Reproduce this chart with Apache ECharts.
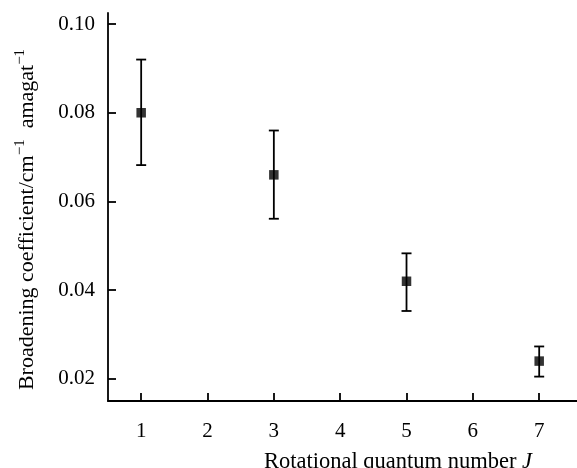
<!DOCTYPE html>
<html>
<head>
<meta charset="utf-8">
<script src="https://cdn.jsdelivr.net/npm/echarts@6/dist/echarts.min.js"></script>
<style>
  html, body { margin: 0; padding: 0; background: #fff; }
  #chart { width: 577px; height: 468px; }
</style>
</head>
<body>
<div id="chart"></div>
<script>
// rotational quantum number J
var jValues = [1, 3, 5, 7];
// broadening coefficient, cm^-1 amagat^-1
var coef = [0.080, 0.066, 0.042, 0.024];
var errLow = [0.0682, 0.0561, 0.0353, 0.0205];
var errHigh = [0.0920, 0.0760, 0.0483, 0.0273];

var xTicks = [1, 2, 3, 4, 5, 6, 7];
var yTicks = [0.02, 0.04, 0.06, 0.08, 0.10];

var FONT = '"Liberation Serif", "DejaVu Serif", serif';

var points = jValues.map(function (j, i) { return [j, coef[i]]; });
var bars = jValues.map(function (j, i) { return [j, errLow[i], errHigh[i]]; });

function renderErr(params, api) {
  var lo = api.coord([api.value(0), api.value(1)]);
  var hi = api.coord([api.value(0), api.value(2)]);
  var hw = 5;
  var style = { stroke: '#000', lineWidth: 1.8 };
  return {
    type: 'group',
    children: [
      { type: 'line', shape: { x1: lo[0], y1: lo[1], x2: hi[0], y2: hi[1] }, style: style },
      { type: 'line', shape: { x1: lo[0] - hw, y1: lo[1], x2: lo[0] + hw, y2: lo[1] }, style: style },
      { type: 'line', shape: { x1: hi[0] - hw, y1: hi[1], x2: hi[0] + hw, y2: hi[1] }, style: style }
    ]
  };
}

var option = {
  animation: false,
  backgroundColor: '#fff',
  textStyle: { fontFamily: FONT },
  grid: { left: 108, right: 0, top: 13, bottom: 67, containLabel: false, outerBoundsMode: 'none' },
  xAxis: {
    type: 'value',
    min: 0.5,
    max: 7.57,
    name: '{n|Rotational quantum number }{i|J}',
    nameLocation: 'middle',
    nameGap: 50,
    nameTextStyle: {
      padding: [0, 0, 0, 111],
      rich: {
        n: { fontFamily: FONT, fontSize: 22.5, color: '#000' },
        i: { fontFamily: FONT, fontSize: 22.5, color: '#000', fontStyle: 'italic' }
      }
    },
    axisLine: { lineStyle: { color: '#000', width: 1.8 } },
    axisTick: { inside: true, length: 8, lineStyle: { color: '#000', width: 1.8 }, customValues: xTicks },
    axisLabel: { color: '#000', fontSize: 21, fontFamily: FONT, margin: 20, customValues: xTicks },
    splitLine: { show: false }
  },
  yAxis: {
    type: 'value',
    min: 0.015,
    max: 0.1025,
    name: '{n|Broadening coefficient/cm}{s|\u22121}{n|  amagat}{s|\u22121}',
    nameLocation: 'middle',
    nameGap: 67,
    nameTextStyle: {
      padding: [0, 25, 0, 0],
      rich: {
        n: { fontFamily: FONT, fontSize: 22, color: '#000' },
        s: { fontFamily: FONT, fontSize: 15, color: '#000', padding: [0, 0, 13, 0] }
      }
    },
    axisLine: { show: true, lineStyle: { color: '#000', width: 1.8 } },
    axisTick: { show: true, inside: true, length: 8, lineStyle: { color: '#000', width: 1.8 }, customValues: yTicks },
    axisLabel: {
      color: '#000', fontSize: 21, fontFamily: FONT, margin: 13, customValues: yTicks,
      formatter: function (v) { return v.toFixed(2); }
    },
    splitLine: { show: false }
  },
  series: [
    {
      type: 'custom',
      renderItem: renderErr,
      data: bars,
      encode: { x: 0, y: [1, 2] },
      z: 1
    },
    {
      type: 'scatter',
      data: points,
      symbol: 'rect',
      symbolSize: 9.5,
      itemStyle: { color: '#000' },
      z: 2
    }
  ]
};

var myChart = echarts.init(document.getElementById('chart'));
myChart.setOption(option);
</script>
</body>
</html>
